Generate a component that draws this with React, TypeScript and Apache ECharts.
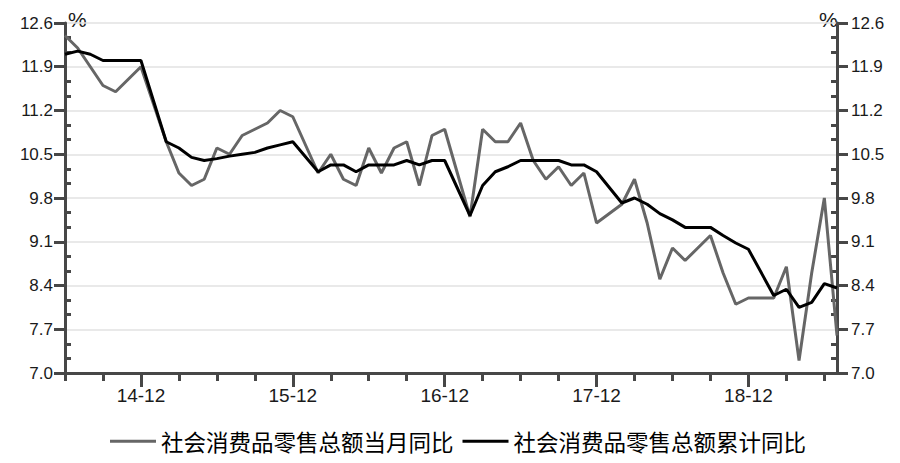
import React, { useEffect, useRef } from "react";
import * as echarts from "echarts";

const months: string[] = [
  "14-06", "14-07", "14-08", "14-09", "14-10", "14-11", "14-12",
  "15-01", "15-02", "15-03", "15-04", "15-05", "15-06", "15-07", "15-08", "15-09", "15-10", "15-11", "15-12",
  "16-01", "16-02", "16-03", "16-04", "16-05", "16-06", "16-07", "16-08", "16-09", "16-10", "16-11", "16-12",
  "17-01", "17-02", "17-03", "17-04", "17-05", "17-06", "17-07", "17-08", "17-09", "17-10", "17-11", "17-12",
  "18-01", "18-02", "18-03", "18-04", "18-05", "18-06", "18-07", "18-08", "18-09", "18-10", "18-11", "18-12",
  "19-01", "19-02", "19-03", "19-04", "19-05", "19-06", "19-07",
];

// 社会消费品零售总额当月同比 (January merged into February -> null)
const monthlyYoY: (number | null)[] = [
  12.4, 12.2, 11.9, 11.6, 11.5, 11.7, 11.9,
  null, 10.7, 10.2, 10.0, 10.1, 10.6, 10.5, 10.8, 10.9, 11.0, 11.2, 11.1,
  null, 10.2, 10.5, 10.1, 10.0, 10.6, 10.2, 10.6, 10.7, 10.0, 10.8, 10.9,
  null, 9.5, 10.9, 10.7, 10.7, 11.0, 10.4, 10.1, 10.3, 10.0, 10.2, 9.4,
  null, 9.7, 10.1, 9.4, 8.5, 9.0, 8.8, 9.0, 9.2, 8.6, 8.1, 8.2,
  null, 8.2, 8.7, 7.2, 8.6, 9.8, 7.6,
];

// 社会消费品零售总额累计同比
const cumulativeYoY: (number | null)[] = [
  12.1, 12.15, 12.1, 12.0, 12.0, 12.0, 12.0,
  null, 10.7, 10.6, 10.45, 10.4, 10.43, 10.47, 10.5, 10.53, 10.6, 10.65, 10.7,
  null, 10.22, 10.33, 10.33, 10.22, 10.33, 10.33, 10.33, 10.4, 10.33, 10.4, 10.4,
  null, 9.52, 10.0, 10.22, 10.3, 10.4, 10.4, 10.4, 10.4, 10.33, 10.33, 10.22,
  null, 9.72, 9.8, 9.7, 9.55, 9.45, 9.33, 9.33, 9.33, 9.2, 9.08, 8.98,
  null, 8.24, 8.34, 8.05, 8.13, 8.43, 8.36,
];

const seriesNames = ["社会消费品零售总额当月同比", "社会消费品零售总额累计同比"];
const yMin = 7.0;
const yMax = 12.6;
const yStep = 0.7;

export default function App() {
  const ref = useRef<HTMLDivElement>(null);

  useEffect(() => {
    if (!ref.current) return;
    const chart = echarts.init(ref.current, null, { renderer: "svg" });
    const axisColor = "#474747";
    const numFont = "Liberation Sans";
    const isDec = (i: number) => months[i].endsWith("-12");

    const yBase = (pos: "left" | "right") => ({
      type: "value",
      position: pos,
      min: yMin,
      max: yMax,
      interval: yStep,
      axisLine: { show: true, lineStyle: { color: axisColor, width: 3 } },
      axisTick: { show: true, length: 11, lineStyle: { color: axisColor, width: 3 } },
      axisLabel: {
        show: true,
        margin: pos === "left" ? 12 : 14,
        fontSize: 17,
        fontFamily: numFont,
        color: "#1a1a1a",
        formatter: (v: number) => v.toFixed(1),
      },
      splitLine: { show: pos === "left", lineStyle: { color: "#e2e2e2", width: 1.5 } },
    });
    const yMinor = (pos: "left" | "right") => ({
      type: "value",
      position: pos,
      min: yMin,
      max: yMax,
      interval: yStep,
      axisLine: { show: false },
      axisTick: { show: false, inside: true },
      minorTick: { show: true, splitNumber: 3, length: 6, lineStyle: { color: axisColor, width: 3 } },
      axisLabel: { show: false },
      splitLine: { show: false },
    });

    chart.setOption({
      animation: false,
      backgroundColor: "#ffffff",
      grid: { left: 65, right: 63, top: 23, bottom: 90, containLabel: false },
      legend: {
        data: seriesNames,
        left: 105,
        top: 425,
        icon: "rect",
        itemWidth: 46,
        itemHeight: 3,
        itemGap: 9,
        textStyle: { fontSize: 22.5, fontFamily: "Noto Sans CJK SC", color: "#000" },
      },
      xAxis: [
        {
          type: "category",
          position: "bottom",
          data: months,
          boundaryGap: false,
          axisLine: { show: true, lineStyle: { color: axisColor, width: 3 } },
          axisTick: {
            show: true,
            length: 8,
            interval: (i: number) => i % 3 === 0,
            lineStyle: { color: axisColor, width: 3 },
          },
          axisLabel: { show: false },
          splitLine: { show: false },
        },
        {
          type: "category",
          position: "bottom",
          data: months,
          boundaryGap: false,
          axisLine: { show: false },
          axisTick: {
            show: true,
            length: 14,
            interval: (i: number) => isDec(i),
            lineStyle: { color: axisColor, width: 3 },
          },
          axisLabel: {
            show: true,
            interval: (i: number) => isDec(i),
            margin: 13,
            fontSize: 19,
            fontFamily: numFont,
            color: "#1a1a1a",
          },
          splitLine: { show: false },
        },
      ],
      yAxis: [yBase("left"), yBase("right"), yMinor("left"), yMinor("right")],
      graphic: [
        { type: "text", left: 68, top: 9, style: { text: "%", fontSize: 21, fontFamily: numFont, fill: "#1a1a1a" } },
        { type: "text", left: 819, top: 9, style: { text: "%", fontSize: 21, fontFamily: numFont, fill: "#1a1a1a" } },
      ],
      series: [
        {
          name: seriesNames[0],
          type: "line",
          xAxisIndex: 0,
          yAxisIndex: 0,
          data: monthlyYoY,
          connectNulls: true,
          showSymbol: false,
          symbol: "none",
          lineStyle: { color: "#666666", width: 3 },
          itemStyle: { color: "#666666" },
        },
        {
          name: seriesNames[1],
          type: "line",
          xAxisIndex: 0,
          yAxisIndex: 0,
          data: cumulativeYoY,
          connectNulls: true,
          showSymbol: false,
          symbol: "none",
          lineStyle: { color: "#000000", width: 3 },
          itemStyle: { color: "#000000" },
        },
      ],
    });
    return () => chart.dispose();
  }, []);

  return (
    <div
      ref={ref}
      style={{ position: "fixed", left: 0, top: 0, width: 900, height: 463, background: "#fff" }}
    />
  );
}
